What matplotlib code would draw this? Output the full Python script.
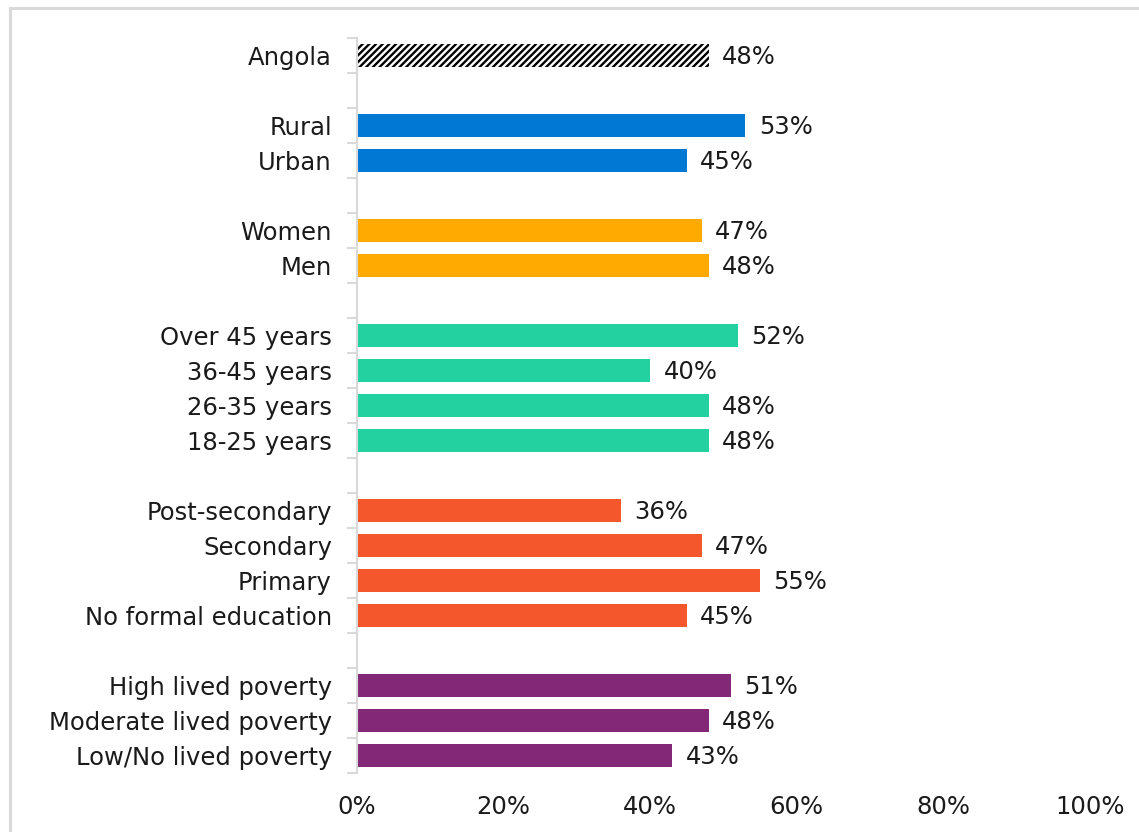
import numpy as np
import matplotlib
matplotlib.use("Agg")
import matplotlib.pyplot as plt
from matplotlib.patches import Rectangle

plt.rcParams['font.family'] = ['DejaVu Sans']
plt.rcParams['hatch.linewidth'] = 1.7

# --- data (top to bottom, None = spacer row between groups) ---
labels = ["Angola", None,
          "Rural", "Urban", None,
          "Women", "Men", None,
          "Over 45 years", "36-45 years", "26-35 years", "18-25 years", None,
          "Post-secondary", "Secondary", "Primary", "No formal education", None,
          "High lived poverty", "Moderate lived poverty", "Low/No lived poverty"]
values = [48, None,
          53, 45, None,
          47, 48, None,
          52, 40, 48, 48, None,
          36, 47, 55, 45, None,
          51, 48, 43]
groups = ["total", None,
          "loc", "loc", None,
          "sex", "sex", None,
          "age", "age", "age", "age", None,
          "edu", "edu", "edu", "edu", None,
          "pov", "pov", "pov"]
colours = {"loc": "#0078D4", "sex": "#FFAA00", "age": "#23D1A0",
           "edu": "#F4572B", "pov": "#832876"}
xticks = [0, 20, 40, 60, 80, 100]

W, H = 1139, 832
FS = 17.5
fig = plt.figure(figsize=(W / 100, H / 100), dpi=100)
fig.patches.append(Rectangle((10 / W, -0.1), 1.2, 1 - 8 / H + 0.1,
                             transform=fig.transFigure, fill=False,
                             edgecolor="#D9D9D9", lw=2.2))

ax = fig.add_axes([357 / W, 1 - 773 / H, (1090 - 357) / W, (773 - 38) / H])
n = len(labels)
ypos = np.arange(n)
for y, lab, v, g in zip(ypos, labels, values, groups):
    if v is None:
        continue
    if g == "total":
        ax.barh(y, v, height=0.68, color="white", edgecolor="black",
                hatch="/////", lw=0)
    else:
        ax.barh(y, v, height=0.68, color=colours[g], lw=0)
    ax.text(v + 1.8, y + 0.05, f"{v}%", va="center", ha="left", fontsize=FS,
            color="#1A1A1A")

ax.set_ylim(n - 0.5, -0.5)
ax.set_xlim(0, 100)
ax.set_yticks(ypos)
ax.set_yticklabels([l if l else "" for l in labels], fontsize=FS,
                   color="#1A1A1A")
ax.tick_params(axis="y", length=0, pad=18)
ax.set_yticks(np.arange(-0.5, n, 1.0), minor=True)
ax.tick_params(axis="y", which="minor", length=7, width=1.5, color="#D9D9D9")
ax.set_xticks(xticks)
ax.set_xticklabels([f"{t}%" for t in xticks], fontsize=FS, color="#1A1A1A")
ax.tick_params(axis="x", length=0, pad=16)
for s in ["top", "right", "bottom"]:
    ax.spines[s].set_visible(False)
ax.spines["left"].set_color("#D9D9D9")
ax.spines["left"].set_linewidth(1.5)

fig.savefig("out.png", dpi=100)
